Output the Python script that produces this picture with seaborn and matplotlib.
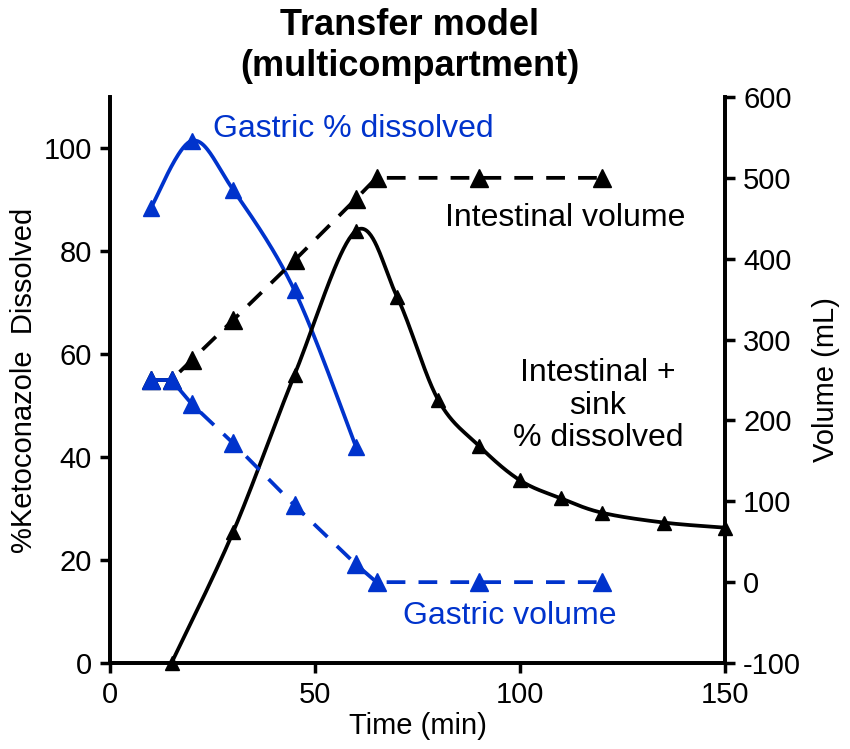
import numpy as np
import pandas as pd
import matplotlib
matplotlib.use("Agg")
import matplotlib.pyplot as plt
import seaborn as sns

# ---- data ----
gastric_diss_t = [10, 20, 30, 45, 60]
gastric_diss = [88.5, 101.5, 92.0, 72.4, 42.0]

intest_diss_t = [15, 30, 45, 60, 70, 80, 90, 100, 110, 120, 135, 150]
intest_diss = [0.0, 25.4, 56.0, 84.0, 71.2, 51.2, 42.2, 35.5, 32.0, 29.2, 27.3, 26.3]

vol_t = [10, 15, 20, 30, 45, 60, 65, 90, 120]
intest_vol = [250, 250, 275, 324, 398, 474, 500, 500, 500]
gastric_vol = [250, 250, 220, 172, 95, 22, 0, 0, 0]

x_ticks = [0, 50, 100, 150]
left_ticks = [0, 20, 40, 60, 80, 100]
right_ticks = [-100, 0, 100, 200, 300, 400, 500, 600]

BLUE = "#0033CC"
BLACK = "#000000"


def smooth(xs, ys, n=40):
    """Uniform Catmull-Rom spline through the points (spreadsheet-style smoothing)."""
    p = np.column_stack([xs, ys]).astype(float)
    ext = np.vstack([p[0], p, p[-1]])
    out = []
    for i in range(1, len(ext) - 2):
        p0, p1, p2, p3 = ext[i - 1], ext[i], ext[i + 1], ext[i + 2]
        c1 = p1 + (p2 - p0) / 6.0
        c2 = p2 - (p3 - p1) / 6.0
        t = np.linspace(0, 1, n, endpoint=(i == len(ext) - 3))[:, None]
        seg = ((1 - t) ** 3) * p1 + 3 * ((1 - t) ** 2) * t * c1 + 3 * (1 - t) * (t ** 2) * c2 + (t ** 3) * p2
        out.append(seg)
    out = np.vstack(out)
    return pd.DataFrame({"t": out[:, 0], "v": out[:, 1]})


sns.set_theme(style="white")
plt.rcParams["font.family"] = ["Liberation Sans", "DejaVu Sans"]
plt.rcParams["axes.unicode_minus"] = False
plt.rcParams["text.color"] = BLACK

fig = plt.figure(figsize=(8.5, 7.49), dpi=100)
ax = fig.add_axes([110 / 850, 1 - 663 / 749, 615 / 850, 566 / 749])
ax2 = ax.twinx()

lw = 2.7

# Left axis: % dissolved (smoothed curves)
g = smooth(gastric_diss_t, gastric_diss)
sns.lineplot(data=g, x="t", y="v", ax=ax, color=BLUE, lw=lw, sort=False, estimator=None)
ax.plot(gastric_diss_t, gastric_diss, ls="none", marker="^", ms=11.5, color=BLUE, mec=BLUE)

s = smooth(intest_diss_t, intest_diss)
sns.lineplot(data=s, x="t", y="v", ax=ax, color=BLACK, lw=lw, sort=False, estimator=None)
ax.plot(intest_diss_t, intest_diss, ls="none", marker="^", ms=9.5, color=BLACK, mec=BLACK,
        clip_on=False)

# Right axis: volumes (dashed)
ax2.plot(vol_t, intest_vol, ls=(0, (5, 3.5)), lw=lw, color=BLACK, marker="^", ms=12.5)
ax2.plot(vol_t, gastric_vol, ls=(0, (5, 3.5)), lw=lw, color=BLUE, marker="^", ms=12.5)

ax.set_xlim(0, 150)
ax.set_ylim(0, 110)
ax2.set_ylim(-100, 600)
ax.set_xticks(x_ticks)
ax.set_yticks(left_ticks)
ax2.set_yticks(right_ticks)

fs = 21
for a in (ax, ax2):
    for side in ("left", "right", "bottom", "top"):
        a.spines[side].set_linewidth(2.7)
        a.spines[side].set_color(BLACK)
    a.spines["top"].set_visible(False)
    a.tick_params(direction="out", length=7, width=2.5, color=BLACK,
                  labelsize=fs, labelcolor=BLACK, pad=6)
ax.tick_params(axis="y", left=True, right=False)
ax.tick_params(axis="x", bottom=True)
ax2.tick_params(axis="y", right=True, left=False)
ax.grid(False)
ax2.grid(False)

ax.set_xlabel("Time (min)", fontsize=fs, color=BLACK, labelpad=2)
ax.set_ylabel("%Ketoconazole  Dissolved", fontsize=fs, color=BLACK, labelpad=4)
ax2.set_ylabel("Volume (mL)", fontsize=fs, color=BLACK, labelpad=8)

fig.text(410 / 850, 1 - 46 / 749, "Transfer model\n(multicompartment)", fontsize=26,
         fontweight="bold", color=BLACK, ha="center", va="center", linespacing=1.2)

tfs = 23
ax.text(25, 103.8, "Gastric % dissolved", color=BLUE, fontsize=tfs, ha="left", va="center")
ax.text(111, 86.4, "Intestinal volume", color=BLACK, fontsize=tfs, ha="center", va="center")
ax.text(119, 50, "Intestinal +\nsink\n% dissolved", color=BLACK, fontsize=tfs,
        ha="center", va="center", linespacing=1.1)
ax.text(97.5, 9.1, "Gastric volume", color=BLUE, fontsize=tfs, ha="center", va="center")

fig.savefig("out.png", dpi=100)
